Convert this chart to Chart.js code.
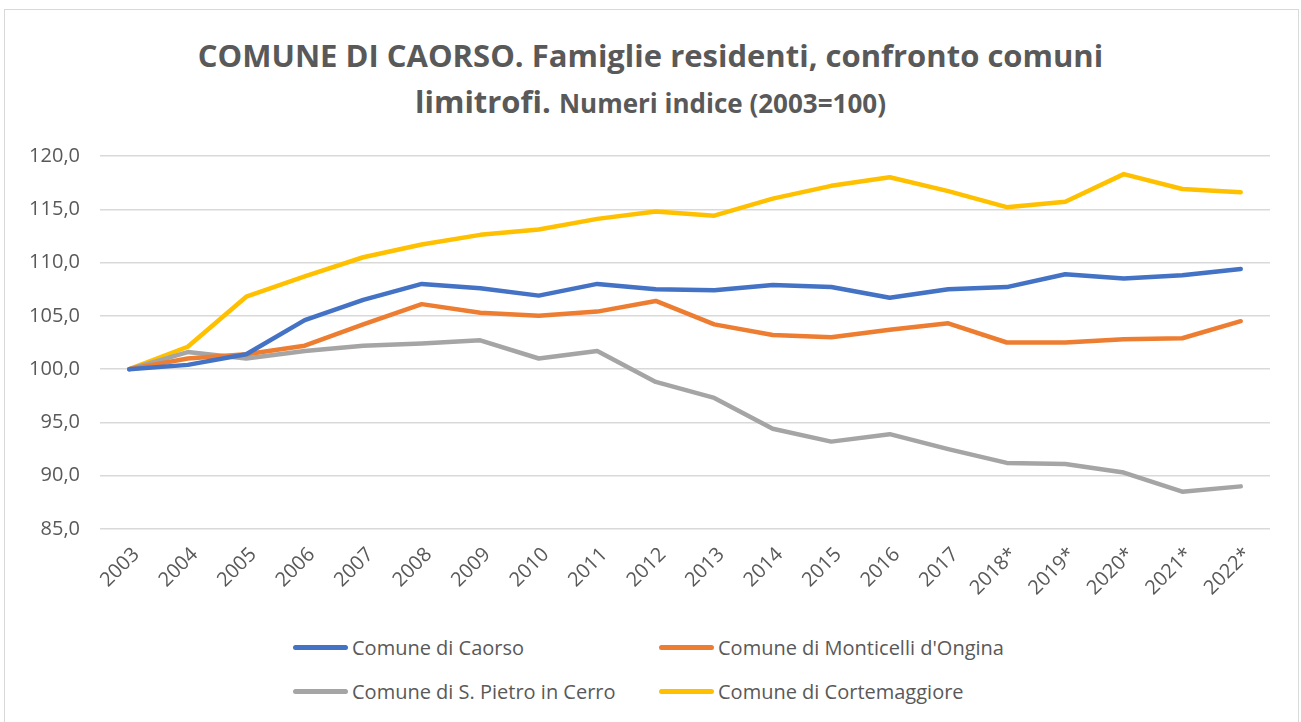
<!DOCTYPE html>
<html>
<head>
<meta charset="utf-8">
<script src="https://cdn.jsdelivr.net/npm/chart.js@4/dist/chart.umd.min.js"></script>
<style>
  body { margin: 0; background: #fff; font-family: 'Open Sans', sans-serif; color: #595959; }
  #frame { position: absolute; left: 4px; top: 9px; width: 1293px; height: 730px; border: 1px solid #d9d9d9; }
  .title { position: absolute; left: 0; width: 1301px; text-align: center; font-weight: bold; color: #595959; white-space: nowrap; }
  #t1 { top: 34px; font-size: 31px; line-height: 42px; }
  #t2 { top: 80px; font-size: 31px; line-height: 42px; }
  #t2 .small { font-size: 26px; }
  #chart { position: absolute; left: 0; top: 124px; }
  .leg { position: absolute; display: flex; align-items: center; font-size: 20px; color: #595959; white-space: nowrap; }
  .leg .sw { width: 55px; height: 5px; border-radius: 3px; margin-right: 4px; }
</style>
</head>
<body>
<div id="frame"></div>
<div class="title" id="t1">COMUNE DI CAORSO. Famiglie residenti, confronto comuni</div>
<div class="title" id="t2">limitrofi. <span class="small">Numeri indice (2003=100)</span></div>
<canvas id="chart" width="1301" height="486"></canvas>
<div id="legend"></div>
<script>
// anni (2018-2022 dati provvisori)
const years = ['2003', '2004', '2005', '2006', '2007', '2008', '2009', '2010', '2011', '2012',
               '2013', '2014', '2015', '2016', '2017', '2018*', '2019*', '2020*', '2021*', '2022*'];

const caorso        = [100, 100.4, 101.4, 104.6, 106.5, 108.0, 107.6, 106.9, 108.0, 107.5,
                       107.4, 107.9, 107.7, 106.7, 107.5, 107.7, 108.9, 108.5, 108.8, 109.4];
const monticelli    = [100, 101.0, 101.4, 102.2, 104.2, 106.1, 105.3, 105.0, 105.4, 106.4,
                       104.2, 103.2, 103.0, 103.7, 104.3, 102.5, 102.5, 102.8, 102.9, 104.5];
const sanPietro     = [100, 101.6, 101.0, 101.7, 102.2, 102.4, 102.7, 101.0, 101.7, 98.8,
                       97.3, 94.4, 93.2, 93.9, 92.5, 91.2, 91.1, 90.3, 88.5, 89.0];
const cortemaggiore = [100, 102.1, 106.8, 108.7, 110.5, 111.7, 112.6, 113.1, 114.1, 114.8,
                       114.4, 116.0, 117.2, 118.0, 116.7, 115.2, 115.7, 118.3, 116.9, 116.6];

const seriesNames = ['Comune di Caorso', "Comune di Monticelli d'Ongina", 'Comune di S. Pietro in Cerro', 'Comune di Cortemaggiore'];
const seriesColors = ['#4472C4', '#ED7D31', '#A5A5A5', '#FFC000'];

const yMin = 85, yMax = 120, yStep = 5;

const mkSet = (i, data) => ({
  label: seriesNames[i],
  data,
  borderColor: seriesColors[i],
  backgroundColor: seriesColors[i],
  borderWidth: 4.5,
  pointRadius: 0,
  borderCapStyle: 'round',
  borderJoinStyle: 'round',
  tension: 0,
});

const TXT = '#595959';

const chart = new Chart(document.getElementById('chart'), {
  type: 'line',
  data: {
    labels: years,
    datasets: [
      mkSet(0, caorso),
      mkSet(1, monticelli),
      mkSet(2, sanPietro),
      mkSet(3, cortemaggiore),
    ],
  },
  options: {
    responsive: false,
    animation: false,
    layout: { padding: { left: 0, right: 31, top: 19, bottom: 0 } },
    plugins: {
      legend: { display: false },
      title: { display: false },
      tooltip: { enabled: false },
    },
    scales: {
      x: {
        offset: true,
        grid: { display: false },
        border: { display: false },
        ticks: {
          color: TXT,
          font: { family: 'Open Sans', size: 20 },
          minRotation: 45, maxRotation: 45,
          padding: 6,
          labelOffset: 7,
          autoSkip: false,
        },
        afterFit: s => { s.height = 81; },
      },
      y: {
        min: yMin, max: yMax,
        grid: { color: '#d9d9d9', lineWidth: 1.5, drawTicks: false },
        border: { display: false },
        ticks: {
          stepSize: yStep,
          color: TXT,
          font: { family: 'Open Sans', size: 20 },
          padding: 20,
          callback: v => v.toFixed(1).replace('.', ','),
        },
        afterFit: s => { s.width = 100; },
      },
    },
  },
});

// legenda a due colonne, costruita dai dataset
const legPos = [[293, 648], [659, 648], [293, 692], [659, 692]];
const legWrap = document.getElementById('legend');
chart.data.datasets.forEach((ds, i) => {
  const el = document.createElement('div');
  el.className = 'leg';
  el.style.left = legPos[i][0] + 'px';
  el.style.top = (legPos[i][1] - 14) + 'px';
  el.innerHTML = `<span class="sw" style="background:${ds.borderColor}"></span><span>${ds.label}</span>`;
  legWrap.appendChild(el);
});
</script>
</body>
</html>
